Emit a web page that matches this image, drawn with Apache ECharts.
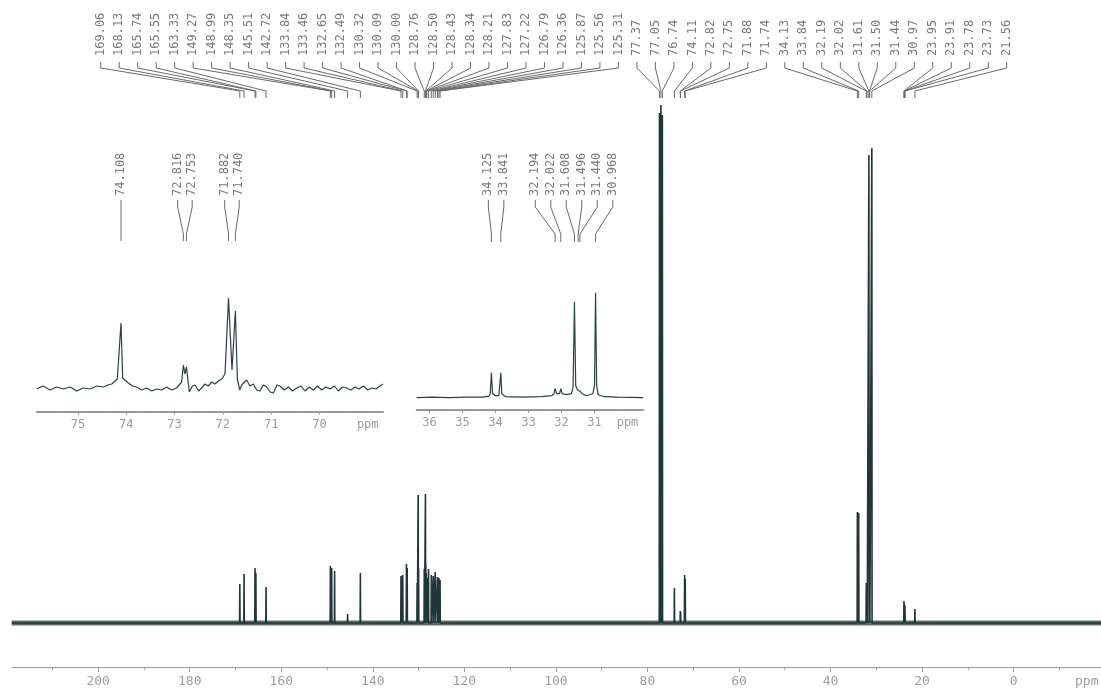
<!DOCTYPE html>
<html>
<head>
<meta charset="utf-8">
<title>13C NMR spectrum</title>
<script src="https://cdn.jsdelivr.net/npm/echarts@6.0.0/dist/echarts.min.js"></script>
<style>
    html, body { margin: 0; padding: 0; background: #fff; }
    #chart { width: 1101px; height: 691px; }
</style>
</head>
<body>
<div id="chart"></div>
<script>
'use strict';

// picked peaks of the full spectrum (ppm) and their heights above the baseline
var mainShifts = [169.06, 168.13, 165.74, 165.55, 163.33, 149.27, 148.99, 148.35, 145.51, 142.72,
    133.84, 133.46, 132.65, 132.49, 130.32, 130.09, 130.00, 128.76, 128.50, 128.43,
    128.34, 128.21, 127.83, 127.22, 126.79, 126.36, 125.87, 125.56, 125.31,
    77.37, 77.05, 76.74, 74.11, 72.82, 72.75, 71.88, 71.74,
    34.13, 33.84, 32.19, 32.02, 31.61, 31.50, 31.44, 30.97, 23.95, 23.91, 23.78, 23.73, 21.56];
var mainHeights = [39, 49, 55, 50, 36, 57, 55, 52, 9, 50,
    47, 48, 59, 55, 40, 128, 55, 54, 129, 60,
    50, 45, 54, 48, 47, 51, 46, 45, 43,
    510, 518, 508, 35, 12, 11, 48, 44,
    111, 110, 40, 40, 468, 42, 40, 475, 22, 20, 18, 16, 14];
var mainTicks = [200, 180, 160, 140, 120, 100, 80, 60, 40, 20, 0];
var mainMinorTicks = [210, 190, 170, 150, 130, 110, 90, 70, 50, 30, 10, -10];

// expansion 75.9 - 68.7 ppm, trace: [ppm, height]
var inset1Trace = [[75.854, -1], [75.72, 2], [75.578, -2], [75.44, 1], [75.302, -1], [75.16, 1],
    [75.025, -3], [74.89, 0], [74.750, -1], [74.61, 2], [74.474, 1], [74.38, 3], [74.301, 4],
    [74.184, 9], [74.108, 65], [74.073, 10], [73.956, 5], [73.87, 2], [73.784, 1], [73.68, -2],
    [73.577, 0], [73.47, -3], [73.370, -1], [73.27, -2], [73.163, 1], [73.06, -2], [72.956, 0],
    [72.852, 6], [72.816, 23], [72.785, 14], [72.753, 21], [72.693, -4], [72.63, 2], [72.576, 3],
    [72.50, -3], [72.438, 0], [72.37, 4], [72.300, 2], [72.23, 6], [72.162, 4], [72.09, 7],
    [72.024, 9], [71.955, 14], [71.882, 90], [71.81, 18], [71.740, 77], [71.699, 9], [71.65, -2],
    [71.610, 3], [71.506, 8], [71.44, 2], [71.368, 4], [71.30, -2], [71.230, -3], [71.16, 3],
    [71.092, 1], [71.02, -4], [70.954, -5], [70.88, 3], [70.816, 2], [70.73, -2], [70.643, 1],
    [70.56, -3], [70.471, 0], [70.38, 2], [70.298, -3], [70.21, 1], [70.126, -2], [70.04, 2],
    [69.953, -2], [69.87, 1], [69.781, -1], [69.69, 2], [69.608, -3], [69.52, 1], [69.436, 0],
    [69.35, -2], [69.263, 1], [69.18, -1], [69.091, 2], [69.00, -2], [68.918, 0], [68.83, -1],
    [68.746, 2], [68.684, 4]];
var inset1Labels = [74.108, 72.816, 72.753, 71.882, 71.740];
var inset1Ticks = [75, 74, 73, 72, 71, 70];

// expansion 36.4 - 29.5 ppm
var inset2Trace = [[36.39, 0], [35.9, 0.5], [35.4, 0], [34.9, 0.5], [34.4, 0.5], [34.2, 1.5],
    [34.16, 4], [34.125, 25], [34.09, 4], [34.0, 2], [33.9, 2], [33.875, 4], [33.841, 25],
    [33.81, 4], [33.7, 1], [33.2, 0.5], [32.6, 1], [32.3, 2], [32.23, 4], [32.194, 9],
    [32.15, 4], [32.11, 3.5], [32.06, 4], [32.022, 9], [31.98, 4], [31.85, 3], [31.7, 4],
    [31.65, 10], [31.608, 96], [31.57, 12], [31.52, 8], [31.496, 8.5], [31.46, 7], [31.44, 6.5],
    [31.38, 4], [31.25, 2], [31.05, 4], [31.0, 12], [30.968, 105], [30.935, 12], [30.89, 3],
    [30.7, 1], [30.3, 0.5], [29.53, 0]];
var inset2Labels = [34.125, 33.841, 32.194, 32.022, 31.608, 31.496, 31.440, 30.968];
var inset2Ticks = [36, 35, 34, 33, 32, 31];

var INK = '#233636';
var LABEL_GREY = '#7a7a7a';
var AXIS_GREY = '#9c9c9c';
var MONO = '"DejaVu Sans Mono", "Liberation Mono", monospace';
var PPM_LEFT = 218.9, PPM_RIGHT = -19.1;

// each picked peak as a narrow stick standing on the baseline
function stickTrace(shifts, heights, from, to) {
    var pts = [[from, 0]];
    for (var i = 0; i < shifts.length; i++) {
        pts.push([shifts[i] + 0.05, 0], [shifts[i], heights[i]], [shifts[i] - 0.05, 0]);
    }
    pts.push([to, 0]);
    return pts;
}

// push label slots apart so that neighbours keep at least `gap` px
function spreadSlots(xs, gap) {
    var groups = xs.map(function (x) { return { sum: x, n: 1, start: x }; });
    var merged = true;
    while (merged) {
        merged = false;
        for (var i = 1; i < groups.length; i++) {
            var a = groups[i - 1], b = groups[i];
            if (a.start + a.n * gap > b.start) {
                var g = { sum: a.sum + b.sum, n: a.n + b.n };
                g.start = g.sum / g.n - (g.n - 1) * gap / 2;
                groups.splice(i - 1, 2, g);
                merged = true;
                break;
            }
        }
    }
    var out = [];
    groups.forEach(function (g) {
        for (var k = 0; k < g.n; k++) out.push(g.start + k * gap);
    });
    return out;
}

// rotated shift labels with their bent leader lines
function peakLabels(values, digits, geo, slotsFor) {
    return {
        type: 'custom',
        xAxisIndex: geo.axis,
        yAxisIndex: geo.grid,
        silent: true,
        clip: false,
        data: values.map(function (v) { return [v, 0]; }),
        encode: { x: 0, y: 1 },
        renderItem: function (params, api) {
            var xs = values.map(function (v) { return api.coord([v, 0])[0]; });
            var slots = slotsFor(xs);
            var i = params.dataIndex;
            var px = xs[i], lx = slots[i];
            return {
                type: 'group',
                children: [{
                    type: 'polyline',
                    shape: { points: [[lx, geo.y0], [lx, geo.y1], [px, geo.y2], [px, geo.y3]] },
                    style: { stroke: '#6a6a6a', lineWidth: 1, fill: null }
                }, {
                    type: 'text',
                    x: lx,
                    y: geo.textY,
                    rotation: Math.PI / 2,
                    style: {
                        text: values[i].toFixed(digits),
                        fill: LABEL_GREY,
                        fontSize: geo.fontSize,
                        fontFamily: MONO,
                        align: 'left',
                        verticalAlign: 'middle'
                    }
                }]
            };
        }
    };
}

function insetAxis(grid, min, max, ticks, unitAt) {
    return {
        type: 'value', gridIndex: grid, inverse: true, min: min, max: max,
        splitLine: { show: false },
        axisLine: { onZero: false, lineStyle: { color: '#8e9a9a', width: 2, type: [1.5, 1.5] } },
        axisTick: { customValues: ticks, length: 3, lineStyle: { color: '#8e9a9a' } },
        axisLabel: {
            customValues: ticks.concat([unitAt]),
            color: AXIS_GREY, fontFamily: MONO, fontSize: 12, margin: 7,
            formatter: function (v) { return v === unitAt ? 'ppm' : String(v); }
        }
    };
}

function hiddenY(grid, min, max) {
    return { type: 'value', gridIndex: grid, min: min, max: max, show: false };
}

var chart = echarts.init(document.getElementById('chart'));

var option = {
    animation: false,
    backgroundColor: '#fff',
    grid: [
        { left: 11.7, right: 0, top: 100, bottom: 24 },
        { left: 36.7, width: 346.3, top: 200, bottom: 279.3 },
        { left: 416.7, width: 226.3, top: 200, bottom: 281 }
    ],
    xAxis: [{
        type: 'value', gridIndex: 0, position: 'bottom', inverse: true,
        min: PPM_RIGHT, max: PPM_LEFT,
        splitLine: { show: false },
        axisLine: { onZero: false, lineStyle: { color: AXIS_GREY, width: 1 } },
        axisTick: { customValues: mainTicks, length: 5, lineStyle: { color: AXIS_GREY } },
        axisLabel: {
            customValues: mainTicks,
            color: AXIS_GREY, fontFamily: MONO, fontSize: 13, margin: 8
        }
    },
        insetAxis(1, 68.684, 75.853, inset1Ticks, 69),
        insetAxis(2, 29.53, 36.39, inset2Ticks, 30),
    {
        // second, label-less axis on the main grid for the small ticks
        type: 'value', gridIndex: 0, position: 'bottom', offset: 0, inverse: true,
        min: PPM_RIGHT, max: PPM_LEFT,
        splitLine: { show: false },
        axisLine: { show: false, onZero: false },
        axisTick: { customValues: mainMinorTicks, length: 3, lineStyle: { color: AXIS_GREY } },
        axisLabel: { show: false }
    }],
    yAxis: [hiddenY(0, -44, 523), hiddenY(1, -23.7, 188), hiddenY(2, -12.3, 197.7)],
    graphic: [{
        type: 'text', left: 1075, top: 675,
        style: { text: 'ppm', fill: AXIS_GREY, fontSize: 13, fontFamily: MONO }
    }],
    series: [{
        // noisy baseline of the full spectrum
        type: 'line', xAxisIndex: 0, yAxisIndex: 0, silent: true,
        showSymbol: false, data: [[PPM_LEFT, 0], [PPM_RIGHT, 0]],
        lineStyle: { color: 'rgba(35,54,54,0.72)', width: 5 }
    }, {
        type: 'line', xAxisIndex: 0, yAxisIndex: 0, silent: true, showSymbol: false,
        data: stickTrace(mainShifts, mainHeights, PPM_LEFT, PPM_RIGHT),
        lineStyle: { color: INK, width: 1.6 }
    },
        peakLabels(mainShifts, 2, { axis: 0, grid: 0, y0: 62, y1: 68, y2: 91, y3: 98, textY: 56, fontSize: 12 },
            function () {
                return mainShifts.map(function (v, i) { return 100.7 + i * 18.49; });
            }),
    {
        type: 'line', xAxisIndex: 1, yAxisIndex: 1, silent: true, showSymbol: false,
        data: inset1Trace,
        lineStyle: { color: '#2c4242', width: 1.2 }
    },
        peakLabels(inset1Labels, 3, { axis: 1, grid: 1, y0: 200, y1: 207, y2: 234, y3: 241, textY: 196, fontSize: 12 },
            function (xs) { return spreadSlots(xs, 14.5); }),
    {
        type: 'line', xAxisIndex: 2, yAxisIndex: 2, silent: true, showSymbol: false,
        data: inset2Trace,
        lineStyle: { color: '#2c4242', width: 1.2 }
    },
        peakLabels(inset2Labels, 3, { axis: 2, grid: 2, y0: 200, y1: 207, y2: 234, y3: 242, textY: 196, fontSize: 12 },
            function (xs) { return spreadSlots(xs, 15.5); })
    ]
};

chart.setOption(option);
</script>
</body>
</html>
